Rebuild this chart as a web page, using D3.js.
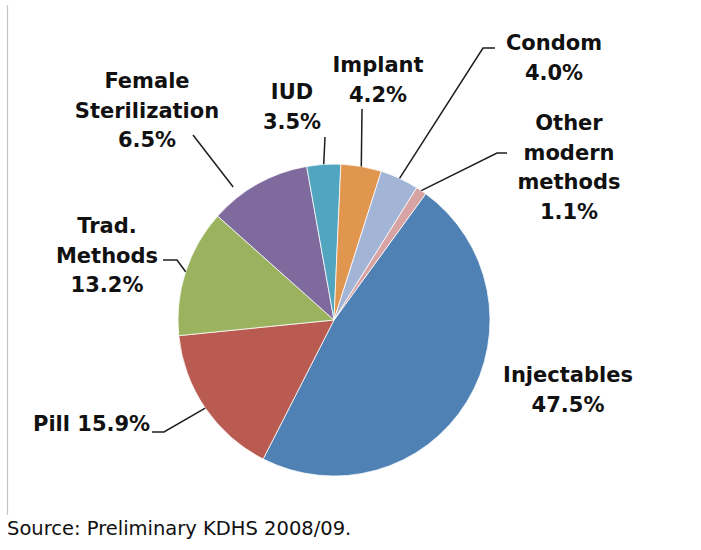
<!DOCTYPE html>
<html>
<head>
<meta charset="utf-8">
<script src="https://cdn.jsdelivr.net/npm/d3@7"></script>
<style>
  html, body { margin: 0; padding: 0; background: #fff; }
  #pie { width: 701px; height: 550px; }
</style>
</head>
<body>
<div id="pie"></div>
<script>
// categories, in clockwise order starting from Injectables
const categories = [
  "Injectables", "Pill", "Trad. Methods", "Female Sterilization",
  "IUD", "Implant", "Condom", "Other modern methods"
];
// slice sizes as drawn (the sterilization slice is drawn ~10.6 though printed 6.5%)
const values = [47.5, 15.9, 13.2, 10.6, 3.5, 4.2, 4.0, 1.1];
// percentage text printed on the chart
const printedPct = ["47.5%", "15.9%", "13.2%", "6.5%", "3.5%", "4.2%", "4.0%", "1.1%"];
// how each label is broken into lines
const labelLines = [
  ["Injectables", "47.5%"],
  ["Pill 15.9%"],
  ["Trad.", "Methods", "13.2%"],
  ["Female", "Sterilization", "6.5%"],
  ["IUD", "3.5%"],
  ["Implant", "4.2%"],
  ["Condom", "4.0%"],
  ["Other", "modern", "methods", "1.1%"]
];
const sourceNote = "Source: Preliminary KDHS 2008/09.";

(function() {
  const WIDTH = 701;
  const HEIGHT = 550;
  const CENTER = [334, 320];
  const RADIUS = 156;
  const START = (36 * Math.PI) / 180;
  const LINE_HEIGHT = 29.5;
  const FONT = "'DejaVu Sans', sans-serif";

  const colors = d3
    .scaleOrdinal()
    .domain(categories)
    .range(["#4F81B4", "#B95B50", "#9BB35F", "#7F6A9E",
            "#51A5BF", "#E0964F", "#A3B5D7", "#D7A3A3"]);

  // label layout: anchor, text-anchor, first baseline, leader elbow points
  const LAYOUT = [
    { x: 568, y: 382, anchor: "middle", elbow: [] },
    { x: 33, y: 431, anchor: "start", elbow: [[164, 432], [152, 432]] },
    { x: 107, y: 233, anchor: "middle", elbow: [[177, 260], [163, 260]] },
    { x: 147, y: 88, anchor: "middle", elbow: [[193, 135]], rk: 1.07, da: -8 },
    { x: 292, y: 99, anchor: "middle", elbow: [[325, 137]] },
    { x: 378, y: 72, anchor: "middle", elbow: [[362, 109]] },
    { x: 554, y: 50, anchor: "middle", elbow: [[483, 48], [495, 48]] },
    { x: 569, y: 130, anchor: "middle", elbow: [[497, 153], [507, 153]] }
  ];

  const svg = d3
    .select("#pie")
    .append("svg")
    .attr("width", WIDTH)
    .attr("height", HEIGHT);

  // thin frame edge on the left
  svg
    .append("line")
    .attr("x1", 7.5)
    .attr("x2", 7.5)
    .attr("y1", 5)
    .attr("y2", 515)
    .attr("stroke", "#c4c4c4")
    .attr("stroke-width", 1.2);

  const pieData = d3
    .pie()
    .sort(null)
    .startAngle(START)
    .endAngle(START + 2 * Math.PI)
    .value(d => d.value)(
      categories.map((c, i) => ({ id: i, name: c, value: values[i] }))
    );

  const arcGenerator = d3.arc().innerRadius(0).outerRadius(RADIUS);

  const graph = svg
    .append("g")
    .attr("transform", `translate(${CENTER[0]}, ${CENTER[1]})`);

  graph
    .append("g")
    .selectAll("path")
    .data(pieData, d => d.data.id)
    .enter()
    .append("path")
    .attr("d", arcGenerator)
    .attr("fill", d => colors(d.data.name))
    .attr("stroke", "rgba(255,255,255,0.75)")
    .attr("stroke-width", 1);

  // leader lines start on the rim at the slice's mid angle
  const rimPoint = (d, i) => {
    const lay = LAYOUT[i];
    const a =
      (d.startAngle + d.endAngle) / 2 + ((lay.da || 0) * Math.PI) / 180;
    const r = RADIUS * (lay.rk || 1);
    return [CENTER[0] + r * Math.sin(a), CENTER[1] - r * Math.cos(a)];
  };

  svg
    .append("g")
    .selectAll("polyline")
    .data(pieData.filter((d, i) => LAYOUT[i].elbow.length))
    .enter()
    .append("polyline")
    .attr("fill", "none")
    .attr("stroke", "#1F1E1C")
    .attr("stroke-width", 1.5)
    .attr("points", d =>
      [rimPoint(d, d.data.id), ...LAYOUT[d.data.id].elbow].join(" ")
    );

  const labels = svg
    .append("g")
    .selectAll("text")
    .data(pieData)
    .enter()
    .append("text")
    .attr("text-anchor", (d, i) => LAYOUT[i].anchor)
    .style("font-family", FONT)
    .style("font-weight", "bold")
    .style("font-size", "21px")
    .style("fill", "#111");

  labels
    .selectAll("tspan")
    .data((d, i) => labelLines[i].map(t => ({ t, i })))
    .enter()
    .append("tspan")
    .attr("x", d => LAYOUT[d.i].x)
    .attr("y", (d, j) => LAYOUT[d.i].y + j * LINE_HEIGHT)
    .text(d => d.t);

  svg
    .append("text")
    .attr("x", 7)
    .attr("y", 535)
    .style("font-family", FONT)
    .style("font-size", "19.5px")
    .style("fill", "#111")
    .text(sourceNote);
})();
</script>
</body>
</html>
